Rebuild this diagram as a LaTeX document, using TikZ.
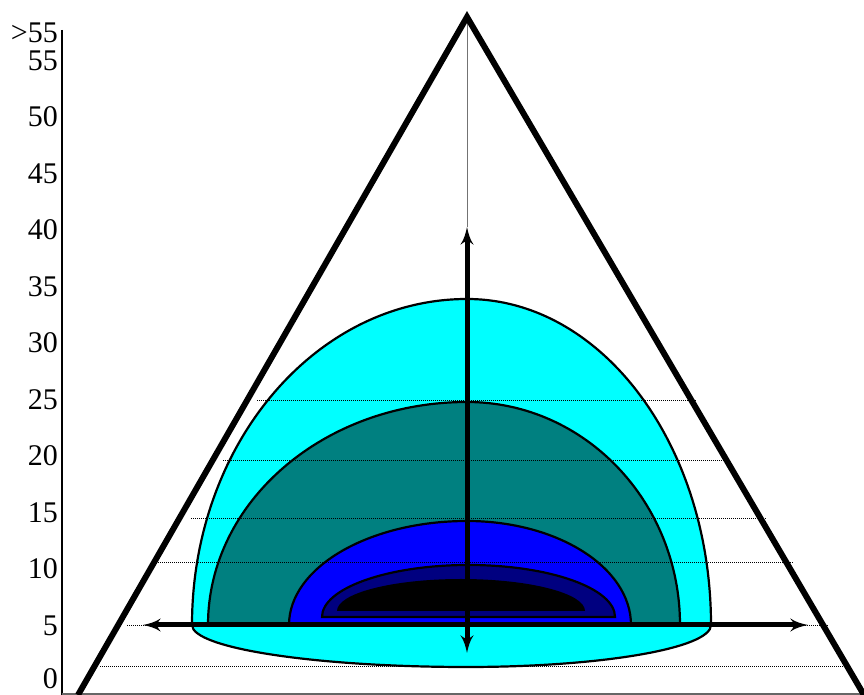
\documentclass[tikz,border=0pt]{standalone}
\usepackage{fontspec}
\setmainfont{Liberation Serif}
\usetikzlibrary{arrows}
\definecolor{aqua}{RGB}{0,255,255}
\definecolor{darkteal}{RGB}{0,128,128}
\definecolor{pureblue}{RGB}{0,0,255}
\definecolor{navy}{RGB}{0,0,128}

\begin{document}
\begin{tikzpicture}[x=1pt, y=1pt]
    % スタイル定義
    \tikzstyle{zone} = [draw, line width=2.2pt]
    \tikzstyle{guide} = [line width=1pt, dash pattern=on 1pt off 1pt, black]
    \tikzstyle{arrowline} = [draw, latex'-latex', line width=5pt]
    \tikzstyle{ticklabel} = [anchor=east, inner sep=0pt, font=\fontsize{30}{36}\selectfont]
    \useasboundingbox (0,0) rectangle (864,695);

    % 座標
    \coordinate (apex) at (467,678);
    \coordinate (bl) at (78,0);
    \coordinate (br) at (864,0);
    \coordinate (vtop) at (467,468);
    \coordinate (vbot) at (467,42);
    \coordinate (hleft) at (143,70);
    \coordinate (hright) at (808,70);
    \coordinate (axtop) at (62,665);
    \coordinate (axbot) at (62,0);
    \coordinate (floor) at (864,1);

    % 領域
    \path [zone, fill=aqua] (192,70) arc[start angle=180, end angle=90, x radius=275, y radius=326]
        arc[start angle=90, end angle=0, x radius=244, y radius=326]
        arc[start angle=0, end angle=-90, x radius=244, y radius=42]
        arc[start angle=270, end angle=180, x radius=275, y radius=42] -- cycle;
    \path [zone, fill=darkteal] (208,70) arc[start angle=180, end angle=90, x radius=259, y radius=223]
        arc[start angle=90, end angle=0, x radius=213, y radius=223] -- cycle;
    \path [zone, fill=pureblue] (289,70) arc[start angle=180, end angle=90, x radius=178, y radius=104]
        arc[start angle=90, end angle=0, x radius=164, y radius=104] -- cycle;
    \path [zone, fill=navy] (322,78) arc[start angle=180, end angle=0, x radius=146.5, y radius=52] -- cycle;
    \fill [black] (337,84) arc[start angle=180, end angle=0, x radius=124, y radius=32] -- cycle;

    % 点線
    \draw [guide] (257,294) -- (697,294);
    \draw [guide] (223,234) -- (727,234);
    \draw [guide] (191,176) -- (767,176);
    \draw [guide] (158,132) -- (793,132);
    \draw [guide] (127,69) -- (828,69);
    \draw [guide] (100,28) -- (850,28);

    % 軸
    \draw [line width=1.3pt] (axtop) -- (axbot);
    \draw [line width=1.8pt, black!60] (axbot |- floor) -- (floor);
    \draw [line width=1pt, black!55] (apex) -- (vtop);

    % 矢印
    \path [arrowline] (vbot) -- (vtop);
    \path [arrowline] (hleft) -- (hright);

    % 三角形
    \draw [line width=6pt, miter limit=20] (bl) -- (apex) -- (br);

    % 目盛り
    \node [ticklabel] (more) at (58,662) {>55};
    \node [ticklabel] (t55) at (58,634.5) {55};
    \node [ticklabel] (t50) at (58,578) {50};
    \node [ticklabel] (t45) at (58,521.5) {45};
    \node [ticklabel] (t40) at (58,465) {40};
    \node [ticklabel] (t35) at (58,408.5) {35};
    \node [ticklabel] (t30) at (58,352) {30};
    \node [ticklabel] (t25) at (58,295.5) {25};
    \node [ticklabel] (t20) at (58,239) {20};
    \node [ticklabel] (t15) at (58,182.5) {15};
    \node [ticklabel] (t10) at (58,126) {10};
    \node [ticklabel] (t5) at (58,69.5) {5};
    \node [ticklabel] (t0) at (58,16) {0};
\end{tikzpicture}
\end{document}
